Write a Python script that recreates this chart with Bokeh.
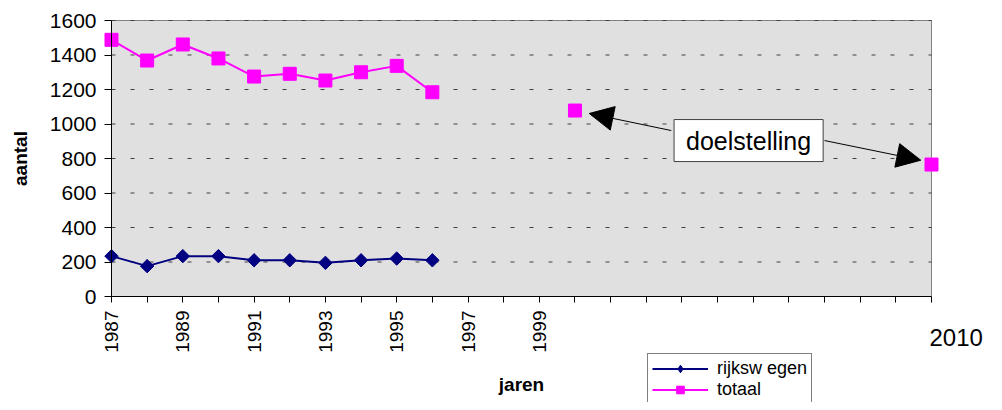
import math
from bokeh.plotting import figure
from bokeh.models import (Range1d, FixedTicker, Legend, LegendItem, Label,
                          Arrow, NormalHead)
from bokeh.embed import file_html
from bokeh.resources import INLINE

# ---- data ----
years = [1987, 1988, 1989, 1990, 1991, 1992, 1993, 1994, 1995, 1996]
rijkswegen = [234, 176, 234, 234, 210, 210, 195, 210, 220, 210]
totaal = [1488, 1368, 1461, 1380, 1275, 1291, 1252, 1300, 1337, 1184]
target_years = [2000, 2010]
target_totaal = [1078, 765]

x_ticks = [1987, 1988, 1989, 1990, 1991, 1992, 1993, 1994, 1995, 1996, 1997, 1998,
           1999, 2000, 2001, 2002, 2003, 2004, 2005, 2006, 2007, 2008, 2009, 2010]
x_tick_labels = ["1987", "", "1989", "", "1991", "", "1993", "", "1995", "", "1997", "",
                 "1999", "", "", "", "", "", "", "", "", "", "", ""]
y_ticks = [0, 200, 400, 600, 800, 1000, 1200, 1400, 1600]

FONT = "Liberation Sans"
NAVY = "#000080"
MAGENTA = "#FF00FF"

# ---- layout (pixels) ----
W, H = 986, 402
PLOT_L, PLOT_R, PLOT_T, PLOT_B = 111, 931, 20, 296
x0, x1 = x_ticks[0], x_ticks[-1]
y0, y1 = y_ticks[0], y_ticks[-1]
ppx = (PLOT_R - PLOT_L) / (x1 - x0)
ppy = (PLOT_B - PLOT_T) / (y1 - y0)

p = figure(width=W, height=H, output_backend="svg", toolbar_location=None,
           x_range=Range1d(x0 - PLOT_L / ppx, x1 + (W - PLOT_R) / ppx),
           y_range=Range1d(y0 - (H - PLOT_B) / ppy, y1 + PLOT_T / ppy),
           min_border=0)
p.outline_line_color = None
p.background_fill_color = "white"
p.border_fill_color = "white"
p.xgrid.visible = False
p.ygrid.visible = False

# plot area
p.quad(left=[x0], right=[x1], bottom=[y0], top=[y1],
       fill_color="#E0E0E0", line_color="#808080", line_width=1)
# dotted gridlines
p.segment(x0=[x0] * (len(y_ticks) - 1), x1=[x1] * (len(y_ticks) - 1),
          y0=y_ticks[1:], y1=y_ticks[1:],
          line_color="#404040", line_dash="4 15", line_width=1)

# axes
xa = p.xaxis[0]
xa.fixed_location = y0
xa.bounds = (x0, x1)
xa.ticker = FixedTicker(ticks=x_ticks)
xa.major_label_overrides = {y: l for y, l in zip(x_ticks, x_tick_labels)}
xa.major_label_orientation = math.pi / 2
xa.minor_tick_line_color = None
xa.major_tick_in = 0
xa.major_tick_out = 6
xa.major_label_standoff = 8
xa.major_label_text_font = FONT
xa.major_label_text_font_size = "19px"
xa.major_label_text_color = "black"
xa.axis_line_color = "black"
xa.major_tick_line_color = "black"
xa.axis_label = "jaren"
xa.axis_label_text_font = FONT
xa.axis_label_text_font_style = "bold"
xa.axis_label_text_font_size = "19px"
xa.axis_label_text_color = "black"
xa.axis_label_standoff = 18

ya = p.yaxis[0]
ya.fixed_location = x0
ya.bounds = (y0, y1)
ya.ticker = FixedTicker(ticks=y_ticks)
ya.minor_tick_line_color = None
ya.major_tick_in = 0
ya.major_tick_out = 7
ya.major_label_standoff = 8
ya.major_label_text_font = FONT
ya.major_label_text_font_size = "21px"
ya.major_label_text_color = "black"
ya.axis_line_color = "black"
ya.major_tick_line_color = "black"
ya.axis_label = "aantal"
ya.axis_label_text_font = FONT
ya.axis_label_text_font_style = "bold"
ya.axis_label_text_font_size = "19px"
ya.axis_label_text_color = "black"
ya.axis_label_standoff = 16

# series
r_line = p.line(years, rijkswegen, line_color=NAVY, line_width=2)
r_mark = p.scatter(years, rijkswegen, marker="square", angle=math.pi / 4, size=9.5,
                   fill_color=NAVY, line_color=NAVY)
t_line = p.line(years, totaal, line_color=MAGENTA, line_width=2)
t_mark = p.scatter(years, totaal, marker="square", size=13,
                   fill_color=MAGENTA, line_color=MAGENTA)
t_target = p.scatter(target_years, target_totaal, marker="square", size=13,
                     fill_color=MAGENTA, line_color=MAGENTA)
# hidden diamond renderer, used only for the legend symbol
r_legend_mark = p.scatter(years, rijkswegen, marker="diamond", size=14,
                          fill_color=NAVY, line_color=NAVY, visible=False)

# annotation "doelstelling"
box_x, box_y = 2004.87, 904
p.add_layout(Arrow(end=NormalHead(size=24, fill_color="black", line_color="black"),
                   x_start=2002.7, y_start=962, x_end=2000.4, y_end=1061,
                   line_color="black", line_width=1))
p.add_layout(Arrow(end=NormalHead(size=24, fill_color="black", line_color="black"),
                   x_start=2007.0, y_start=904, x_end=2009.7, y_end=790,
                   line_color="black", line_width=1))
p.add_layout(Label(x=box_x, y=box_y, text="doelstelling", text_align="center",
                   text_baseline="middle", text_font=FONT, text_font_size="25px",
                   text_color="black", background_fill_color="white",
                   border_line_color="#404040", border_line_width=1,
                   padding=(12, 7)))

# stray "2010" label
p.add_layout(Label(x=x1, y=y0, x_offset=-2, y_offset=-41, text="2010",
                   text_align="left", text_baseline="middle", text_font=FONT,
                   text_font_size="24px", text_color="black"))

legend = Legend(items=[LegendItem(label="rijksw egen", renderers=[r_line, r_legend_mark]),
                       LegendItem(label="totaal", renderers=[t_line, t_mark])],
                location=(647, -3))
legend.label_text_font = FONT
legend.label_text_font_size = "18px"
legend.label_text_color = "black"
legend.label_height = 19
legend.glyph_height = 19
legend.glyph_width = 56
legend.label_standoff = 9
legend.spacing = 0
legend.padding = 4
legend.margin = 0
legend.border_line_color = "black"
legend.border_line_width = 1
legend.background_fill_color = "white"
legend.background_fill_alpha = 1
p.add_layout(legend, "center")

open("out.html", "w").write(file_html(p, INLINE))
